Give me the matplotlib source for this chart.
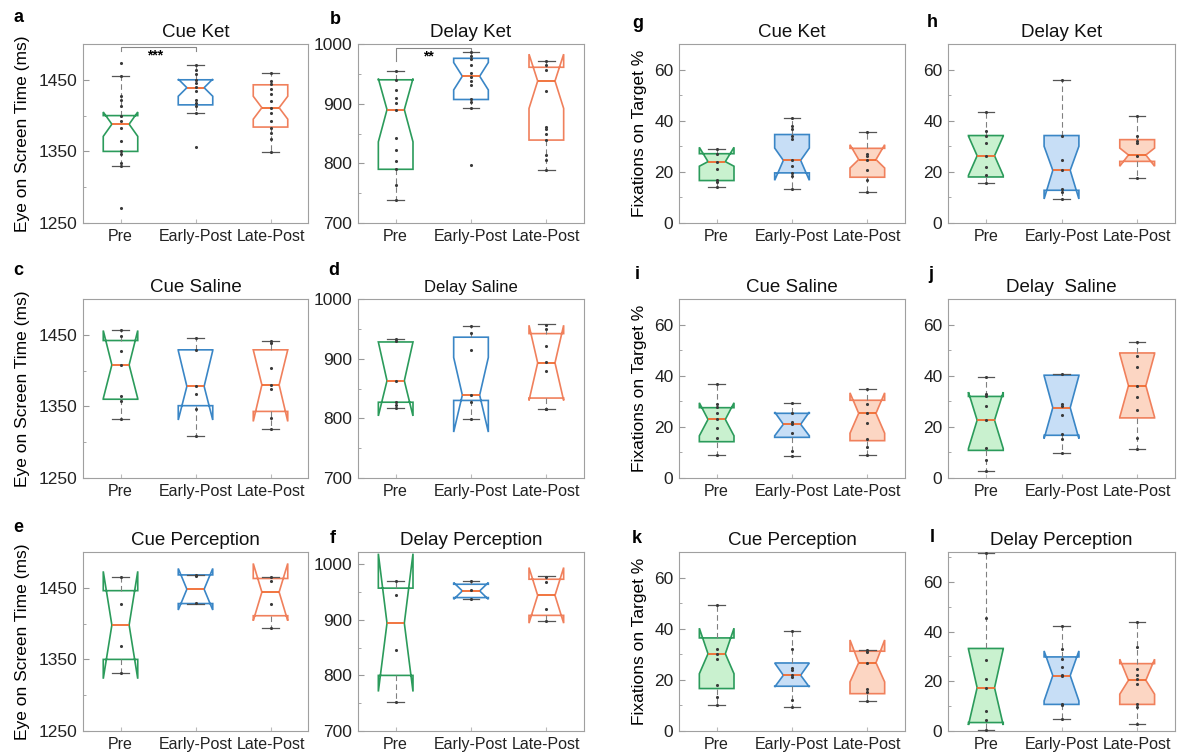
import numpy as np
import matplotlib
matplotlib.use('Agg')
import matplotlib.pyplot as plt

plt.rcParams['font.family'] = ['Liberation Sans', 'DejaVu Sans']

groups = ['Pre', 'Early-Post', 'Late-Post']

# box stats per group: q1, med, q3, whislo, whishi, cilo, cihi
a_box = [[1350, 1388, 1400, 1329, 1455, 1371, 1405],
         [1415, 1439, 1450, 1404, 1470, 1427, 1451],
         [1384, 1411, 1443, 1349, 1459, 1395, 1427]]
a_pts = [[1474, 1455, 1428, 1422, 1414, 1399, 1393, 1383, 1365, 1350, 1347, 1334, 1329, 1271],
         [1470, 1464, 1458, 1450, 1445, 1440, 1434, 1422, 1417, 1413, 1404, 1356],
         [1459, 1448, 1444, 1437, 1430, 1421, 1411, 1403, 1393, 1383, 1376, 1367, 1349]]

b_box = [[790, 890, 940, 738, 954, 836, 942],
         [907, 946, 976, 893, 987, 923, 969],
         [839, 938, 961, 789, 972, 892, 983]]
b_pts = [[954, 940, 923, 909, 901, 890, 842, 822, 804, 790, 763, 738],
         [987, 980, 975, 964, 952, 944, 938, 932, 907, 902, 893, 798],
         [971, 964, 957, 922, 861, 858, 849, 839, 814, 806, 789]]

c_box = [[1360, 1408, 1442, 1332, 1457, 1361, 1456],
         [1351, 1378, 1429, 1309, 1445, 1331, 1428],
         [1343, 1380, 1429, 1318, 1442, 1329, 1429]]
c_pts = [[1457, 1448, 1427, 1408, 1365, 1358, 1332],
         [1445, 1429, 1378, 1368, 1346, 1309],
         [1442, 1438, 1403, 1380, 1374, 1334, 1318]]

d_box = [[827, 863, 928, 818, 933, 804, 928],
         [830, 839, 936, 799, 955, 777, 902],
         [834, 893, 942, 815, 958, 830, 956]]
d_pts = [[933, 929, 863, 828, 823, 818],
         [955, 943, 914, 839, 827, 799],
         [957, 949, 922, 894, 880, 816, 815]]

e_box = [[1350, 1398, 1446, 1331, 1465, 1323, 1473],
         [1428, 1448, 1468, 1428, 1468, 1419, 1477],
         [1411, 1444, 1463, 1394, 1465, 1404, 1484]]
e_pts = [[1465, 1427, 1369, 1331],
         [1468, 1466, 1429],
         [1465, 1460, 1428, 1394]]

f_box = [[800, 894, 957, 752, 970, 771, 1019],
         [940, 952, 964, 938, 970, 937, 967],
         [908, 944, 973, 898, 978, 894, 994]]
f_pts = [[969, 944, 845, 752],
         [970, 953, 938],
         [977, 968, 920, 898]]

g_box = [[16.6, 24.0, 27.1, 14.1, 28.9, 22.2, 29.6],
         [19.6, 24.5, 34.6, 13.3, 40.9, 16.7, 29.3],
         [17.9, 24.8, 29.2, 12.1, 35.6, 21.5, 30.6]]
g_pts = [[28.9, 27.1, 23.9, 21.3, 17.0, 15.9, 14.1],
         [40.9, 38.1, 36.8, 34.2, 32.9, 24.5, 22.2, 19.6, 18.5, 13.3],
         [35.6, 27.1, 26.1, 24.8, 20.9, 16.7, 12.1]]

h_box = [[18.0, 26.3, 34.2, 15.6, 43.5, 18.6, 34.0],
         [12.8, 20.6, 34.2, 9.4, 56.1, 9.4, 30.0],
         [24.1, 26.6, 32.6, 17.5, 41.7, 22.2, 29.3]]
h_pts = [[43.5, 35.9, 33.9, 31.3, 26.3, 21.9, 18.9, 15.6],
         [56.1, 34.2, 24.8, 20.6, 13.4, 12.0, 9.4],
         [41.7, 34.2, 31.9, 31.3, 26.3, 17.5]]

i_box = [[14.2, 22.9, 27.5, 8.8, 36.7, 16.5, 29.4],
         [15.9, 21.0, 25.3, 8.7, 29.4, 16.5, 25.8],
         [14.6, 25.3, 30.4, 9.1, 34.8, 17.5, 33.3]]
i_pts = [[36.7, 29.1, 27.8, 25.3, 22.9, 19.4, 15.8, 8.8],
         [29.4, 25.3, 22.0, 21.0, 17.7, 10.4, 8.7],
         [34.8, 29.1, 25.3, 21.4, 15.2, 12.3, 9.1]]

j_box = [[10.8, 22.6, 31.9, 2.6, 39.5, 11.5, 33.6],
         [16.7, 27.5, 40.2, 9.8, 40.8, 15.4, 40.0],
         [23.5, 36.1, 48.9, 11.5, 53.2, 23.8, 48.5]]
j_pts = [[39.5, 33.0, 32.1, 28.0, 22.6, 11.9, 6.9, 2.6],
         [40.5, 28.8, 28.0, 24.5, 17.1, 15.1, 9.8],
         [53.2, 47.8, 43.4, 36.1, 31.6, 26.7, 15.6, 11.5]]

k_box = [[16.6, 30.2, 36.4, 10.1, 49.4, 22.4, 40.2],
         [17.5, 21.8, 26.6, 9.5, 39.0, 17.2, 26.6],
         [14.6, 26.7, 31.2, 11.8, 31.7, 19.2, 35.6]]
k_pts = [[49.4, 32.1, 30.2, 28.2, 17.9, 13.3, 10.1],
         [39.0, 32.1, 24.7, 23.7, 21.8, 21.1, 12.0, 9.5],
         [31.7, 30.8, 26.7, 16.6, 15.3, 11.8]]

l_box = [[3.4, 17.4, 33.2, 0.3, 71.4, 2.4, 33.0],
         [10.7, 22.3, 29.8, 4.7, 42.3, 12.1, 32.2],
         [10.7, 20.4, 27.1, 3.0, 43.9, 14.8, 28.9]]
l_pts = [[71.4, 45.6, 28.6, 21.1, 17.4, 8.1, 4.3, 0.3],
         [42.3, 32.9, 28.9, 25.8, 22.6, 22.1, 11.0, 10.3, 4.7],
         [43.9, 33.8, 24.8, 22.4, 20.8, 18.8, 10.7, 9.7, 3.0]]

edge_cols = ['#2b9b5b', '#3a86c6', '#f0805c']
face_cols = ['#c9f1cf', '#c7def6', '#fcd6c3']
med_col = '#f06a30'

W, H = 1178, 753
fig = plt.figure(figsize=(W / 100, H / 100), dpi=100)

col_left = [83, 358, 679, 948]
col_w = [225, 226, 226, 227]
row_top = [44, 299, 552]
ax_h = 179


def make_ax(r, c):
    l = col_left[c]
    t = row_top[r]
    return fig.add_axes([l / W, 1 - (t + ax_h) / H, col_w[c] / W, ax_h / H])


def draw_panel(ax, box, pts, filled, ylim, yticks, title, tsize=13.5):
    stats = []
    for s in box:
        stats.append(dict(q1=s[0], med=s[1], q3=s[2], whislo=s[3], whishi=s[4],
                          cilo=s[5], cihi=s[6], fliers=[]))
    bp = ax.bxp(stats, positions=[1, 2, 3], widths=0.46, shownotches=True,
                patch_artist=True, showfliers=False,
                whiskerprops=dict(color='#808080', lw=0.8, linestyle=(0, (5, 3))),
                capprops=dict(color='#555555', lw=0.9),
                medianprops=dict(color=med_col, lw=1.3), capwidths=0.22)
    for k, patch in enumerate(bp['boxes']):
        patch.set_edgecolor(edge_cols[k])
        patch.set_linewidth(1.2)
        patch.set_facecolor(face_cols[k] if filled else 'none')
    for k in range(3):
        ax.scatter(np.full(len(pts[k]), k + 1), pts[k], s=5, color='#3a3a3a',
                   zorder=5, linewidths=0)
    ax.set_xlim(0.5, 3.5)
    ax.set_ylim(*ylim)
    ax.set_yticks(yticks)
    step = yticks[1] - yticks[0]
    ax.set_yticks([v + step / 2 for v in yticks[:-1]] +
                  ([yticks[-1] + step / 2] if yticks[-1] + step / 2 <= ylim[1] else []),
                  minor=True)
    ax.set_xticks([1, 2, 3])
    ax.set_xticklabels(groups, fontsize=11.5, color='#222222')
    ax.tick_params(axis='y', which='major', direction='in', length=4, labelsize=12.5,
                   colors='#999999', labelcolor='#222222', pad=4)
    ax.tick_params(axis='y', which='minor', direction='in', length=2.5, colors='#999999')
    ax.tick_params(axis='x', direction='in', length=3, colors='#bbbbbb',
                   labelcolor='#222222', pad=4)
    for sp in ax.spines.values():
        sp.set_color('#a0a0a0')
        sp.set_linewidth(0.8)
    ax.set_title(title, fontsize=tsize, pad=5, color='#111111')


eye_lim = (1250, 1500)
eye_ticks = [1250, 1350, 1450]
del_lim = (700, 1000)
del_ticks = [700, 800, 900, 1000]
fix_lim = (0, 70)
fix_ticks = [0, 20, 40, 60]

ax = make_ax(0, 0)
draw_panel(ax, a_box, a_pts, False, eye_lim, eye_ticks, 'Cue Ket')
ax.plot([1, 1, 2, 2], [1490, 1496, 1496, 1490], color='#888888', lw=0.8)
ax.text(1.46, 1494, '***', ha='center', va='top', fontsize=10, fontweight='bold')
ax.set_ylabel('Eye on Screen Time (ms)', fontsize=12.5)

ax = make_ax(0, 1)
draw_panel(ax, b_box, b_pts, False, del_lim, del_ticks, 'Delay Ket')
ax.plot([1, 1, 2, 2], [971, 994, 994, 990], color='#888888', lw=0.8)
ax.text(1.43, 991, '**', ha='center', va='top', fontsize=10, fontweight='bold')

ax = make_ax(1, 0)
draw_panel(ax, c_box, c_pts, False, eye_lim, eye_ticks, 'Cue Saline')
ax.set_ylabel('Eye on Screen Time (ms)', fontsize=12.5)

ax = make_ax(1, 1)
draw_panel(ax, d_box, d_pts, False, del_lim, del_ticks, 'Delay Saline', tsize=12)

ax = make_ax(2, 0)
draw_panel(ax, e_box, e_pts, False, eye_lim, eye_ticks, 'Cue Perception')
ax.set_ylabel('Eye on Screen Time (ms)', fontsize=12.5)

ax = make_ax(2, 1)
draw_panel(ax, f_box, f_pts, False, (700, 1022), del_ticks, 'Delay Perception')

ax = make_ax(0, 2)
draw_panel(ax, g_box, g_pts, True, fix_lim, fix_ticks, 'Cue Ket')
ax.set_ylabel('Fixations on Target %', fontsize=12.5)

ax = make_ax(0, 3)
draw_panel(ax, h_box, h_pts, True, fix_lim, fix_ticks, 'Delay Ket')

ax = make_ax(1, 2)
draw_panel(ax, i_box, i_pts, True, fix_lim, fix_ticks, 'Cue Saline')
ax.set_ylabel('Fixations on Target %', fontsize=12.5)

ax = make_ax(1, 3)
draw_panel(ax, j_box, j_pts, True, fix_lim, fix_ticks, 'Delay  Saline')

ax = make_ax(2, 2)
draw_panel(ax, k_box, k_pts, True, fix_lim, fix_ticks, 'Cue Perception')
ax.set_ylabel('Fixations on Target %', fontsize=12.5)

ax = make_ax(2, 3)
draw_panel(ax, l_box, l_pts, True, (0, 72), fix_ticks, 'Delay Perception')

for a in fig.axes:
    if a.get_ylabel():
        a.yaxis.set_label_coords(-0.14 if a.get_position().x0 > 0.5 else -0.235, 0.5)

# panel letters (pixel positions of baselines)
letters = [('a', 13, 22), ('b', 330, 24), ('g', 632, 28), ('h', 927, 27),
           ('c', 13, 275), ('d', 328, 275), ('i', 635, 279), ('j', 928, 279),
           ('e', 13, 532), ('f', 330, 543), ('k', 632, 543), ('l', 930, 542)]
for t, x, y in letters:
    fig.text(x / W, 1 - y / H, t, fontsize=13, fontweight='bold', va='baseline')

fig.savefig('out.png', dpi=100)
